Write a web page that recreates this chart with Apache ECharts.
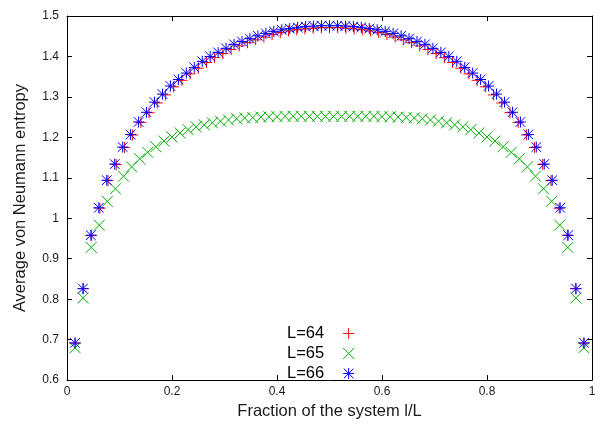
<!DOCTYPE html>
<html>
<head>
<meta charset="utf-8">
<script src="https://cdn.jsdelivr.net/npm/echarts@6/dist/echarts.min.js"></script>
<style>
  html, body { margin: 0; padding: 0; background: #fff; }
  #chart { width: 602px; height: 425px; }
</style>
</head>
<body>
<div id="chart"></div>
<script>
// System sizes
const sizes = [64, 65, 66];
const seriesNames = ['L=64', 'L=65', 'L=66'];

// Average von Neumann entropy at l = 1 .. L-1 (x = l/L)
const entropyL64 = [
  0.691, 0.826, 0.958, 1.025, 1.093, 1.133, 1.175, 1.206, 1.237, 1.261,
  1.285, 1.305, 1.325, 1.341, 1.357, 1.371, 1.385, 1.397, 1.407, 1.417,
  1.426, 1.434, 1.441, 1.448, 1.454, 1.459, 1.463, 1.466, 1.468, 1.470,
  1.471, 1.471,
  1.471, 1.470, 1.468, 1.466, 1.463, 1.459, 1.454, 1.448, 1.441, 1.434,
  1.426, 1.417, 1.407, 1.397, 1.385, 1.371, 1.357, 1.341, 1.325, 1.305,
  1.285, 1.261, 1.237, 1.206, 1.175, 1.133, 1.093, 1.025, 0.958, 0.826,
  0.691
];
const entropyL65 = [
  0.680, 0.803, 0.928, 0.983, 1.042, 1.073, 1.104, 1.127, 1.147, 1.163,
  1.177, 1.191, 1.201, 1.211, 1.219, 1.226, 1.231, 1.236, 1.240, 1.243,
  1.246, 1.248, 1.249, 1.250, 1.251, 1.251, 1.252, 1.252, 1.252, 1.252,
  1.252, 1.252,
  1.252, 1.252, 1.252, 1.252, 1.252, 1.252, 1.251, 1.251, 1.250, 1.249,
  1.248, 1.246, 1.243, 1.240, 1.236, 1.231, 1.226, 1.219, 1.211, 1.201,
  1.191, 1.177, 1.163, 1.147, 1.127, 1.104, 1.073, 1.042, 0.983, 0.928,
  0.803, 0.680
];
const entropyL66 = [
  0.692, 0.826, 0.958, 1.026, 1.094, 1.134, 1.176, 1.207, 1.238, 1.262,
  1.287, 1.307, 1.327, 1.343, 1.359, 1.373, 1.388, 1.400, 1.410, 1.420,
  1.430, 1.437, 1.444, 1.451, 1.457, 1.462, 1.466, 1.469, 1.472, 1.474,
  1.475, 1.476, 1.476,
  1.476, 1.475, 1.474, 1.472, 1.469, 1.466, 1.462, 1.457, 1.451, 1.444,
  1.437, 1.430, 1.420, 1.410, 1.400, 1.388, 1.373, 1.359, 1.343, 1.327,
  1.307, 1.287, 1.262, 1.238, 1.207, 1.176, 1.134, 1.094, 1.026, 0.958,
  0.826, 0.692
];

// Axis ticks
const xTicks = [0, 0.2, 0.4, 0.6, 0.8, 1];
const yTicks = [0.6, 0.7, 0.8, 0.9, 1.0, 1.1, 1.2, 1.3, 1.4, 1.5];

const colors = ['#ff0000', '#00b000', '#0000ff'];
const symbols = [
  'path://M5,0L5,10M0,5L10,5',
  'path://M0,0L10,10M10,0L0,10',
  'path://M5,0L5,10M0,5L10,5M0.6,0.6L9.4,9.4M9.4,0.6L0.6,9.4'
];
const allValues = [entropyL64, entropyL65, entropyL66];

const font = 'Liberation Sans, Arial, Helvetica, sans-serif';
const textColor = '#1a1a1a';

const series = allValues.map((vals, k) => ({
  name: seriesNames[k],
  type: 'scatter',
  symbol: symbols[k],
  symbolSize: 11,
  data: vals.map((v, i) => [(i + 1) / sizes[k], v]),
  itemStyle: { color: 'rgba(0,0,0,0)', borderColor: colors[k], borderWidth: 1, opacity: 1 },
  emphasis: { disabled: true },
  animation: false,
  z: 2 + k
}));

const chart = echarts.init(document.getElementById('chart'), null, { renderer: 'canvas' });
chart.setOption({
  animation: false,
  backgroundColor: '#ffffff',
  grid: { left: 67, right: 10, top: 16, bottom: 38, containLabel: false },
  xAxis: [
    {
      type: 'value', min: xTicks[0], max: xTicks[xTicks.length - 1], interval: 0.2,
      position: 'bottom',
      name: 'Fraction of the system l/L', nameLocation: 'middle', nameGap: 20,
      nameTextStyle: { fontFamily: font, fontSize: 16.5, color: textColor },
      axisLine: { show: true, onZero: false, lineStyle: { color: '#000', width: 1 } },
      axisTick: { show: true, inside: true, length: 5, lineStyle: { color: '#000' } },
      axisLabel: { fontFamily: font, fontSize: 12, color: textColor, margin: 6 },
      splitLine: { show: false }
    },
    {
      type: 'value', min: xTicks[0], max: xTicks[xTicks.length - 1], interval: 0.2,
      position: 'top',
      axisLine: { show: true, onZero: false, lineStyle: { color: '#000', width: 1 } },
      axisTick: { show: true, inside: true, length: 5, lineStyle: { color: '#000' } },
      axisLabel: { show: false },
      splitLine: { show: false }
    }
  ],
  yAxis: [
    {
      type: 'value', min: yTicks[0], max: yTicks[yTicks.length - 1], interval: 0.1,
      position: 'left',
      name: 'Average von Neumann entropy', nameLocation: 'middle', nameGap: 38,
      nameTextStyle: { fontFamily: font, fontSize: 16.5, color: textColor },
      axisLine: { show: true, onZero: false, lineStyle: { color: '#000', width: 1 } },
      axisTick: { show: true, inside: true, length: 5, lineStyle: { color: '#000' } },
      axisLabel: {
        fontFamily: font, fontSize: 12, color: textColor, margin: 8,
        formatter: v => String(Math.round(v * 10) / 10)
      },
      splitLine: { show: false }
    },
    {
      type: 'value', min: yTicks[0], max: yTicks[yTicks.length - 1], interval: 0.1,
      position: 'right',
      axisLine: { show: true, onZero: false, lineStyle: { color: '#000', width: 1 } },
      axisTick: { show: true, inside: true, length: 5, lineStyle: { color: '#000' } },
      axisLabel: { show: false },
      splitLine: { show: false }
    }
  ],
  legend: {
    orient: 'vertical',
    left: 282,
    top: 320,
    align: 'right',
    itemWidth: 39,
    itemHeight: 11,
    itemGap: 3,
    symbolKeepAspect: true,
    selectedMode: false,
    itemStyle: { borderWidth: 1 },
    textStyle: { fontFamily: font, fontSize: 16.5, color: '#000', lineHeight: 16 },
    data: seriesNames
  },
  series: series
});
</script>
</body>
</html>
